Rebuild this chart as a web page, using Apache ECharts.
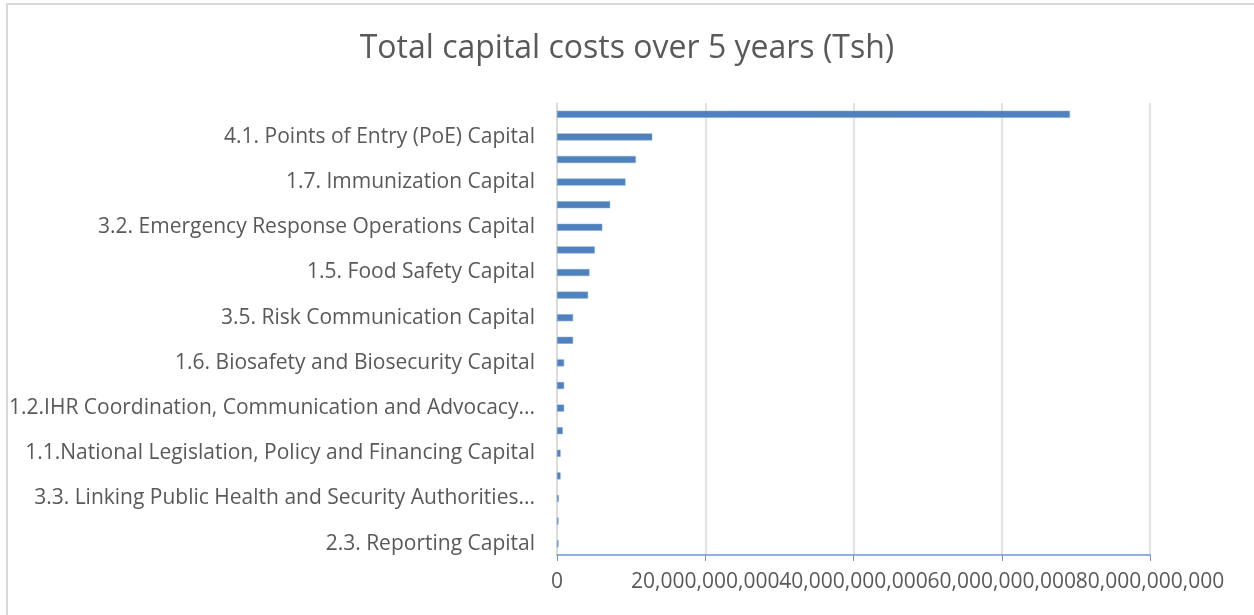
<!DOCTYPE html>
<html>
<head>
<meta charset="utf-8">
<script src="https://cdn.jsdelivr.net/npm/echarts@6/dist/echarts.min.js"></script>
<style>
  html, body { margin: 0; padding: 0; background: #fff; }
  #frame {
    position: absolute; left: 6px; top: 3px; width: 1260px; height: 620px;
    border-left: 2px solid #d9d9d9; border-top: 2px solid #d9d9d9;
  }
  #chart { position: absolute; left: 0; top: 0; width: 1254px; height: 615px; }
</style>
</head>
<body>
<div id="frame"></div>
<div id="chart"></div>
<script>
// bottom-to-top order (category axis starts at the bottom)
const categories = [
  "2.3. Reporting Capital",
  "4.3. Radiation Emergencies Capital",
  "3.3. Linking Public Health and Security Authorities Capital",
  "4.2. Chemical Events Capital",
  "1.1.National Legislation, Policy and Financing Capital",
  "1.4. Zoonotic Disease Capital",
  "1.2.IHR Coordination, Communication and Advocacy Capital",
  "1.3. Antimicrobial Resistance Capital",
  "1.6. Biosafety and Biosecurity Capital",
  "2.4. Workforce Development Capital",
  "3.5. Risk Communication Capital",
  "3.1. Preparedness Capital",
  "1.5. Food Safety Capital",
  "3.4. Medical Countermeasures and Personnel Deployment Capital",
  "3.2. Emergency Response Operations Capital",
  "2.2. Real-Time Surveillance Capital",
  "1.7. Immunization Capital",
  "2.1. National Laboratory System Capital",
  "4.1. Points of Entry (PoE) Capital",
  "Laboratory Infrastructure Capital"
];
const capitalCosts = [
  0.2e9, 0.2e9, 0.24e9, 0.48e9, 0.48e9, 0.77e9, 0.96e9, 0.96e9, 0.96e9, 2.17e9,
  2.17e9, 4.19e9, 4.38e9, 5.1e9, 6.11e9, 7.17e9, 9.24e9, 10.64e9, 12.85e9, 69.2e9
];
const axisMax = 80e9;
const axisStep = 20e9;

const font = "'Open Sans', sans-serif";
const labelSize = 21;
const labelWidth = 530;

// cut long labels at a word boundary, like the spreadsheet does
const ctx = document.createElement("canvas").getContext("2d");
ctx.font = labelSize + "px " + font;
function wordTruncate(text) {
  if (ctx.measureText(text).width <= labelWidth) return text;
  const words = text.split(" ");
  while (words.length > 1) {
    words.pop();
    const t = words.join(" ") + "...";
    if (ctx.measureText(t).width <= labelWidth) return t;
  }
  return words[0];
}

const chart = echarts.init(document.getElementById("chart"));

chart.setOption({
  animation: false,
  title: {
    text: "Total capital costs over 5 years (Tsh)",
    left: "center",
    top: 28,
    textStyle: { color: "#595959", fontSize: 32, fontWeight: "normal", fontFamily: font }
  },
  grid: { left: 557, right: 104, top: 103, bottom: 60 },
  xAxis: {
    type: "value",
    min: 0,
    max: axisMax,
    interval: axisStep,
    axisLine: { show: true, lineStyle: { color: "#6f94cf", width: 1.5 } },
    axisTick: { show: true, length: 6, lineStyle: { color: "#6f94cf" } },
    axisLabel: {
      color: "#595959", fontSize: 21, fontFamily: font, margin: 17,
      formatter: v => v.toLocaleString("en-US")
    },
    splitLine: { lineStyle: { color: "#d9d9d9", width: 1.5 } }
  },
  yAxis: {
    type: "category",
    data: categories,
    axisLine: { show: true, lineStyle: { color: "#d9d9d9", width: 1.5 } },
    axisTick: { show: false },
    axisLabel: {
      interval: 1,
      color: "#595959", fontSize: labelSize, fontFamily: font, margin: 22,
      formatter: wordTruncate
    }
  },
  series: [{
    type: "bar",
    data: capitalCosts,
    barWidth: 7,
    itemStyle: { color: "#4f81bd", borderColor: "#7fa2d0", borderWidth: 0.5 }
  }]
});
</script>
</body>
</html>
